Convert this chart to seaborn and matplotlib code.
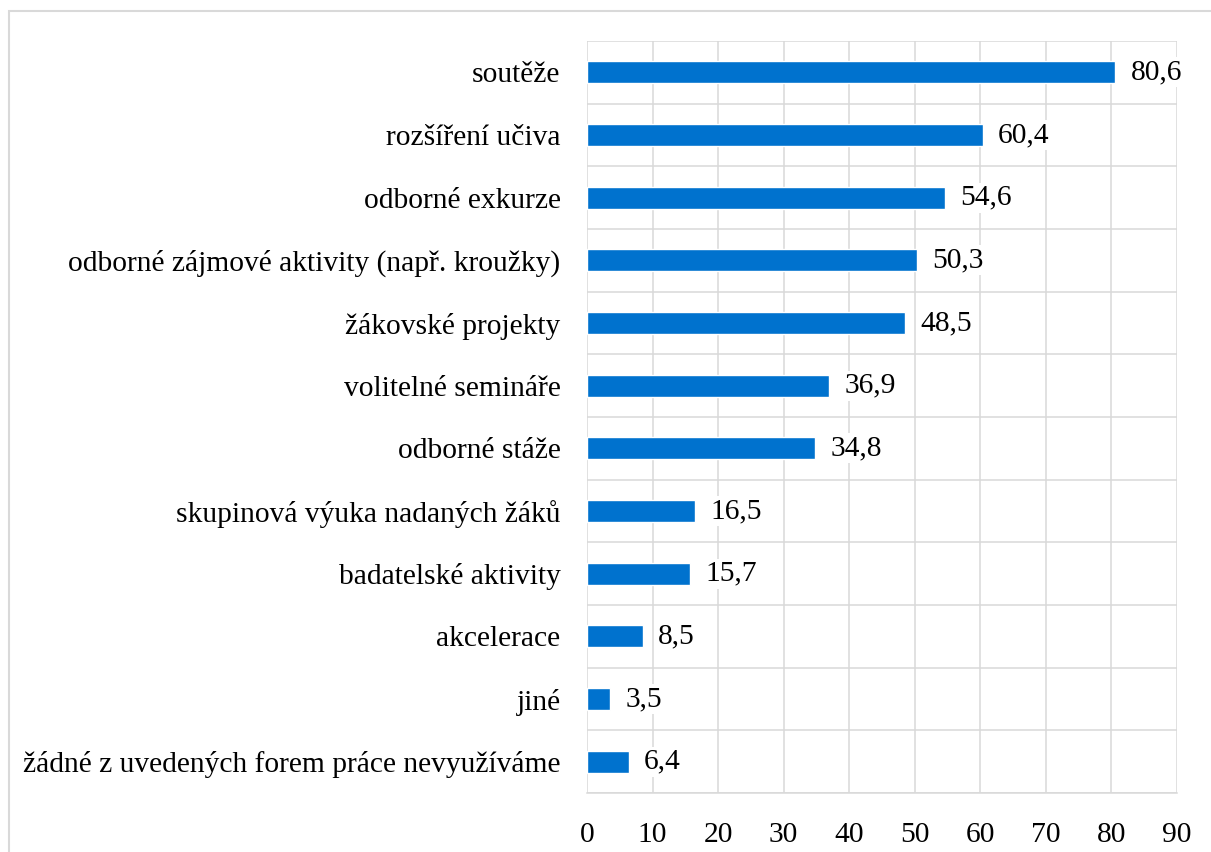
import numpy as np
import pandas as pd
import matplotlib
matplotlib.use("Agg")
import matplotlib.pyplot as plt
import seaborn as sns
from matplotlib.patches import Rectangle

categories = [
    "soutěže",
    "rozšíření učiva",
    "odborné exkurze",
    "odborné zájmové aktivity (např. kroužky)",
    "žákovské projekty",
    "volitelné semináře",
    "odborné stáže",
    "skupinová výuka nadaných žáků",
    "badatelské aktivity",
    "akcelerace",
    "jiné",
    "žádné z uvedených forem práce nevyužíváme",
]
values = [80.6, 60.4, 54.6, 50.3, 48.5, 36.9, 34.8, 16.5, 15.7, 8.5, 3.5, 6.4]
x_ticks = [0, 10, 20, 30, 40, 50, 60, 70, 80, 90]

BAR_COLOR = "#0072CE"
GRID_COLOR = "#D9D9D9"
FS = 21.25

sns.set_theme(style="white")
plt.rcParams["font.family"] = ["Liberation Serif", "DejaVu Serif"]
plt.rcParams["font.size"] = FS

df = pd.DataFrame({"cat": categories, "val": values})

fig = plt.figure(figsize=(12.11, 8.52), dpi=100)
fig.patch.set_facecolor("white")
# light outer frame of the chart area (cut off at right/bottom)
fig.patches.append(Rectangle((9 / 1211, -0.1), 1.2, 1 - 11 / 852 + 0.1,
                             transform=fig.transFigure, fill=False,
                             edgecolor=GRID_COLOR, linewidth=1.5, zorder=0))

ax = fig.add_axes([587 / 1211, 1 - 793 / 852, (1177 - 587) / 1211, (793 - 41) / 852])
sns.barplot(data=df, x="val", y="cat", orient="h", color=BAR_COLOR,
            width=0.35, saturation=1, ax=ax, zorder=3)

ax.set_xlim(0, 90)
ax.set_xticks(x_ticks)
ax.set_xticklabels([str(t) for t in x_ticks], fontsize=FS)
ax.set_ylim(len(categories) - 0.5, -0.5)
ax.set_yticks(np.arange(len(categories)))
ax.set_yticklabels(categories, fontsize=FS)
ax.set_yticks(np.arange(len(categories) + 1) - 0.5, minor=True)
ax.set_xlabel("")
ax.set_ylabel("")

ax.tick_params(axis="x", length=0, pad=21, colors="black")
ax.tick_params(axis="y", which="both", length=0, pad=19, colors="black")
ax.grid(axis="x", color=GRID_COLOR, linewidth=1.1, zorder=0)
ax.grid(axis="y", which="minor", color=GRID_COLOR, linewidth=1.1, zorder=0)
ax.grid(axis="y", which="major", visible=False)
for side in ["top", "right", "left"]:
    ax.spines[side].set_visible(False)
ax.spines["bottom"].set_color(GRID_COLOR)
ax.spines["bottom"].set_linewidth(1.1)

labels = ax.bar_label(ax.containers[0],
                      labels=[f"{v:.1f}".replace(".", ",") for v in values],
                      padding=11, fontsize=FS, color="black")
for t in labels:
    t.set_bbox(dict(facecolor="white", edgecolor="none", pad=1.5))
    t.set_zorder(5)

fig.savefig("out.png", dpi=100, facecolor="white")
